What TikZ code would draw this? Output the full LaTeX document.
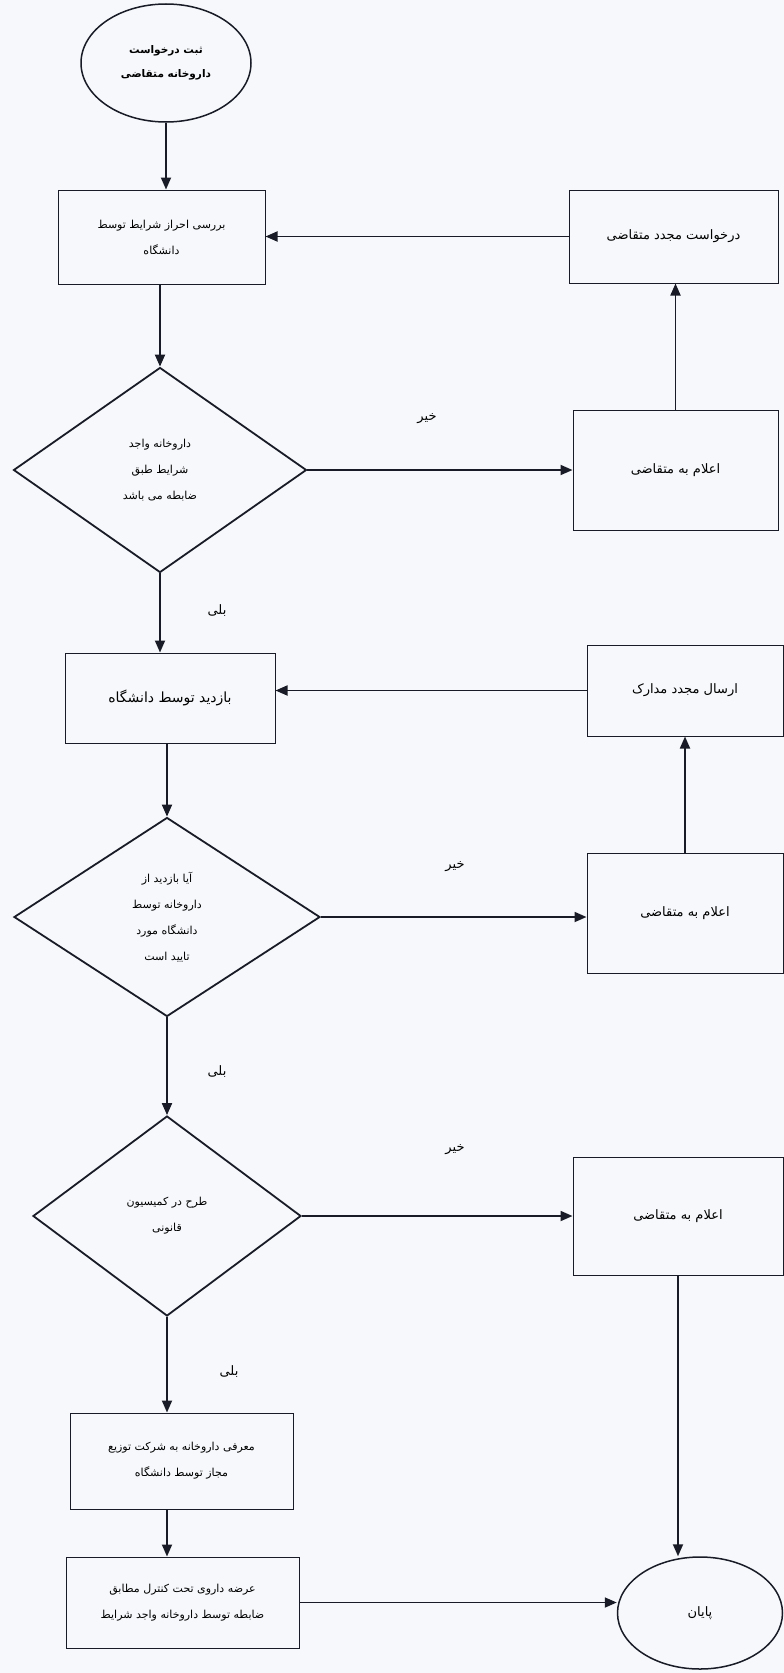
\documentclass[tikz,border=0pt]{standalone}
\usepackage{fontspec}
\newfontfamily\arabicfont[Script=Arabic]{DejaVu Sans}
\TeXXeTstate=1
\usetikzlibrary{shapes.geometric,arrows.meta}
\newcommand{\fa}[1]{\beginR #1\endR}
\definecolor{paper}{RGB}{246,248,251}
\definecolor{ink}{RGB}{25,28,38}
\begin{document}
\begin{tikzpicture}[x=1pt,y=-1pt,
  box/.style={draw=ink, line width=1pt, rectangle, inner sep=0pt, align=center, font=\arabicfont\fontsize{13}{26}\selectfont},
  smallbox/.style={box, font=\arabicfont\fontsize{11}{26}\selectfont},
  dia/.style={draw=ink, line width=1.8pt, diamond, inner sep=0pt, align=center, font=\arabicfont\fontsize{11}{26}\selectfont},
  oval/.style={draw=ink, line width=1.5pt, ellipse, inner sep=0pt, align=center},
  arr/.style={draw=ink, line width=1.8pt, -{Triangle[length=12pt,width=10pt]}},
  lbl/.style={font=\arabicfont\fontsize{13}{16}\selectfont, inner sep=0pt}
]
\fill[paper] (0,0) rectangle (784,1673);
\useasboundingbox (0,0) rectangle (784,1673);

\node[oval, minimum width=170, minimum height=118, font=\arabicfont\bfseries\fontsize{10.5}{24}\selectfont] (start) at (166,63) {\fa{ثبت درخواست}\\\fa{داروخانه متقاضی}};
\node[smallbox, minimum width=207, minimum height=94] (box1) at (161.5,237) {\fa{بررسی احراز شرایط توسط}\\\fa{دانشگاه}};
\node[box, minimum width=209, minimum height=93] (r1) at (673.5,236.5) {\fa{درخواست مجدد متقاضی}};
\node[dia, minimum width=293, minimum height=205, aspect=1.43] (d1) at (160,470) {\fa{داروخانه واجد}\\\fa{شرایط طبق}\\\fa{ضابطه می باشد}};
\node[box, minimum width=205, minimum height=120] (r2) at (675.5,470) {\fa{اعلام به متقاضی}};
\node[box, minimum width=210, minimum height=90, font=\arabicfont\fontsize{14}{26}\selectfont] (box2) at (170,698) {\fa{بازدید توسط دانشگاه}};
\node[box, minimum width=196, minimum height=91] (r3) at (685,690.5) {\fa{ارسال مجدد مدارک}};
\node[dia, minimum width=306, minimum height=199, aspect=1.54] (d2) at (167,917) {\fa{آیا بازدید از}\\\fa{داروخانه توسط}\\\fa{دانشگاه مورد}\\\fa{تایید است}};
\node[box, minimum width=196, minimum height=120] (r4) at (685,913) {\fa{اعلام به متقاضی}};
\node[dia, minimum width=268, minimum height=200, aspect=1.34] (d3) at (167,1216) {\fa{طرح در کمیسیون}\\\fa{قانونی}};
\node[box, minimum width=210, minimum height=118] (r5) at (678,1216) {\fa{اعلام به متقاضی}};
\node[smallbox, minimum width=223, minimum height=96] (box3) at (181.5,1461) {\fa{معرفی داروخانه به شرکت توزیع}\\\fa{مجاز توسط دانشگاه}};
\node[smallbox, minimum width=233, minimum height=91] (box4) at (182.5,1602.5) {\fa{عرضه داروی تحت کنترل مطابق}\\\fa{ضابطه توسط داروخانه واجد شرایط}};
\node[oval, minimum width=165, minimum height=112, font=\arabicfont\fontsize{13}{16}\selectfont] (end) at (700,1613) {\fa{پایان}};

\draw[arr] (start.south) -- (start.south |- box1.north);
\draw[arr] (r1.west) -- (r1.west -| box1.east);
\draw[arr] (box1.south -| d1.north) -- (d1.north);
\draw[arr] (d1.east) -- (d1.east -| r2.west);
\draw[arr] (r2.north) -- (r2.north |- r1.south);
\draw[arr] (d1.south) -- (d1.south |- box2.north);
\draw[arr] (r3.west) -- (r3.west -| box2.east);
\draw[arr] (box2.south -| d2.north) -- (d2.north);
\draw[arr] (d2.east) -- (d2.east -| r4.west);
\draw[arr] (r4.north) -- (r4.north |- r3.south);
\draw[arr] (d2.south) -- (d3.north);
\draw[arr] (d3.east) -- (d3.east -| r5.west);
\draw[arr] (d3.south) -- (d3.south |- box3.north);
\draw[arr] (box3.south -| d3.south) -- (d3.south |- box4.north);
\draw[arr] (box4.east) -- (box4.east -| end.west);
\draw[arr] (r5.south) -- (r5.south |- end.north);

\node[lbl] (no1) at (427,419) {\fa{خیر}};
\node[lbl] (no2) at (455,867) {\fa{خیر}};
\node[lbl] (no3) at (455,1150) {\fa{خیر}};
\node[lbl] (yes1) at (217,611) {\fa{بلی}};
\node[lbl] (yes2) at (217,1072) {\fa{بلی}};
\node[lbl] (yes3) at (229,1371) {\fa{بلی}};
\end{tikzpicture}
\end{document}
